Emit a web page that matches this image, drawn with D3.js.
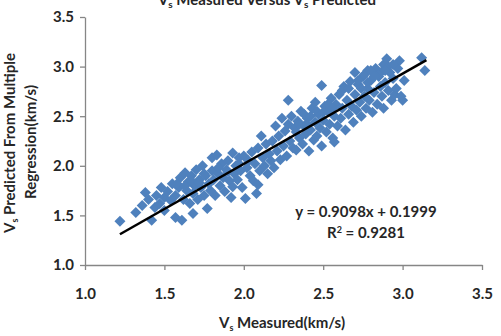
<!DOCTYPE html>
<html><head><meta charset="utf-8">
<script src="https://cdn.jsdelivr.net/npm/d3@7"></script>
<style>body{margin:0;background:#fff}svg{display:block}text{font-family:Lato,"Open Sans",sans-serif;font-weight:bold;fill:#262626}</style>
</head><body><svg id="c" width="501" height="336"></svg>
<script>
const xTicks = [1.0, 1.5, 2.0, 2.5, 3.0, 3.5];
const yTicks = [1.0, 1.5, 2.0, 2.5, 3.0, 3.5];
const slope = 0.9098, intercept = 0.1999, r2 = 0.9281;
const fitRange = [1.22, 3.15];
const measured = [
1.22,1.32,1.36,1.38,1.40,1.42,1.44,1.45,1.47,1.48,1.50,1.50,
1.52,1.54,1.55,1.57,1.57,1.59,1.60,1.61,1.62,1.63,1.64,1.65,1.66,1.67,1.68,1.68,1.69,1.70,1.71,1.72,1.73,1.74,1.75,1.76,1.77,1.78,1.79,1.80,1.80,
1.81,1.82,1.83,1.84,1.85,1.86,1.87,1.88,1.89,1.90,1.91,1.92,1.93,1.93,1.94,1.95,1.96,1.97,1.98,1.99,2.00,2.01,2.02,2.03,2.04,2.05,2.06,2.07,2.08,2.09,2.09,2.10,2.11,2.12,2.13,2.14,2.15,2.16,2.17,2.18,2.19,
2.20,2.21,2.22,2.23,2.24,2.25,2.26,2.27,2.28,2.28,2.29,2.30,2.31,2.32,2.33,2.34,2.35,2.36,2.37,2.38,2.39,2.40,2.41,2.42,2.43,2.44,2.45,2.45,2.46,2.47,2.48,2.49,2.49,2.50,2.51,2.52,2.53,2.54,2.55,2.56,2.57,2.57,2.58,2.59,
2.60,2.61,2.62,2.63,2.64,2.65,2.66,2.67,2.68,2.69,2.70,2.70,2.71,2.72,2.73,2.74,2.75,2.76,2.77,2.78,2.78,2.79,2.80,2.81,2.82,2.83,2.84,2.85,2.86,2.87,2.88,2.88,2.89,2.90,2.91,2.92,2.93,2.94,2.95,2.96,2.97,2.98,3.00,3.01,3.12,3.14,2.99,
1.58,1.63,1.67,1.72,1.75,1.84,1.90,1.97,2.35,2.38,2.42,2.46,2.50,2.53,2.56,2.33,2.40,2.62,2.66,2.72,2.76,2.80,2.84,2.87,2.91,2.94,2.82,2.78,2.74,2.89
];
const predicted = [
1.44,1.53,1.60,1.73,1.66,1.45,1.58,1.70,1.62,1.78,1.55,1.68,
1.74,1.65,1.82,1.48,1.70,1.78,1.88,1.45,1.66,1.93,1.75,1.84,1.62,1.90,1.52,1.72,1.80,1.96,1.66,1.86,1.78,2.00,1.70,1.90,1.57,1.82,1.75,1.95,2.08,
1.86,1.70,2.11,1.92,1.80,2.02,1.88,1.74,1.96,2.05,1.85,1.68,2.13,1.79,1.92,2.00,1.86,2.08,1.95,1.78,2.10,1.67,1.98,2.05,1.90,2.14,1.85,2.02,1.72,1.81,2.18,1.95,2.30,2.08,2.00,2.22,1.92,2.12,2.05,2.25,1.98,
2.40,2.15,2.30,2.06,2.48,2.20,2.35,2.10,2.66,2.42,2.25,2.50,2.18,2.38,2.16,2.45,2.28,2.55,2.22,2.40,2.32,2.48,2.15,2.36,2.58,2.26,2.64,2.44,2.30,2.52,2.38,2.81,2.20,2.46,2.60,2.34,2.55,2.42,2.68,2.28,2.24,2.50,2.62,2.40,
2.72,2.48,2.58,2.80,2.36,2.66,2.52,2.85,2.60,2.44,2.94,2.72,2.56,2.82,2.64,2.50,2.90,2.70,2.58,2.96,2.78,2.66,2.86,2.54,2.74,2.98,2.62,2.90,2.80,2.70,3.02,2.58,2.84,3.08,2.76,2.94,2.66,2.88,2.72,2.78,2.98,3.06,2.66,2.86,3.09,2.96,2.70,
1.82,1.80,1.85,1.83,1.92,1.98,1.94,2.02,2.42,2.52,2.50,2.55,2.54,2.62,2.58,2.34,2.42,2.76,2.78,2.86,2.92,2.96,2.92,2.95,3.00,3.02,2.90,2.84,2.78,2.96
];

const svg = d3.select("#c");
const x = d3.scaleLinear().domain([1.0, 3.5]).range([85, 482]);
const y = d3.scaleLinear().domain([1.0, 3.5]).range([265, 17]);

// axes
const xa = svg.append("g").attr("transform","translate(0,265)")
  .call(d3.axisBottom(x).tickValues(xTicks).tickSize(5).tickSizeOuter(0).tickFormat(d3.format(".1f")));
const ya = svg.append("g").attr("transform","translate(85,0)")
  .call(d3.axisLeft(y).tickValues(yTicks).tickSize(5).tickSizeOuter(0).tickFormat(d3.format(".1f")));
[xa, ya].forEach(g => {
  g.selectAll("path,line").attr("stroke","#868686").attr("stroke-width",1.3);
  g.selectAll("text").attr("font-size",15).attr("font-family","Lato, sans-serif").attr("font-weight","bold").attr("fill","#262626");
});
xa.selectAll("text").attr("dy","0").attr("y",34);
ya.selectAll("text").attr("x",-11);

// points
const pts = measured.map((m,i)=>[m, predicted[i]]);
const r = 5.5;
svg.append("g").selectAll("path").data(pts).join("path")
  .attr("d", d => `M${x(d[0])},${y(d[1])-r}L${x(d[0])+r},${y(d[1])}L${x(d[0])},${y(d[1])+r}L${x(d[0])-r},${y(d[1])}Z`)
  .attr("fill","#4F81BD");

// trendline
svg.append("line")
  .attr("x1", x(fitRange[0])).attr("y1", y(slope*fitRange[0]+intercept))
  .attr("x2", x(fitRange[1])).attr("y2", y(slope*fitRange[1]+intercept))
  .attr("stroke","#000").attr("stroke-width",2.5);

// equation
svg.append("text").attr("x",366).attr("y",217).attr("text-anchor","middle").attr("font-size",15)
  .text(`y = ${slope}x + ${intercept}`);
const rt = svg.append("text").attr("x",366).attr("y",238).attr("text-anchor","middle").attr("font-size",15);
rt.append("tspan").text("R");
rt.append("tspan").attr("dy",-5).attr("font-size",9).text("2");
rt.append("tspan").attr("dy",5).text(` = ${r2}`);

// title (cut off at top, as in the reference)
const t = svg.append("text").attr("x",267).attr("y",5).attr("text-anchor","middle").attr("font-size",15);
t.append("tspan").text("V");
t.append("tspan").attr("dy",3).attr("font-size",10).text("s");
t.append("tspan").attr("dy",-3).text(" Measured Versus V");
t.append("tspan").attr("dy",3).attr("font-size",10).text("s");
t.append("tspan").attr("dy",-3).text(" Predicted");

// x title
const xt = svg.append("text").attr("x",282).attr("y",328).attr("text-anchor","middle").attr("font-size",15);
xt.append("tspan").text("V");
xt.append("tspan").attr("dy",3).attr("font-size",9).text("s");
xt.append("tspan").attr("dy",-3).text(" Measured(km/s)");

// y title
const yt = svg.append("text").attr("transform","translate(15,143) rotate(-90)").attr("text-anchor","middle").attr("font-size",15);
yt.append("tspan").text("V");
yt.append("tspan").attr("dy",3).attr("font-size",9).text("s");
yt.append("tspan").attr("dy",-3).text(" Predicted From Multiple");
svg.append("text").attr("transform","translate(36,142) rotate(-90)").attr("text-anchor","middle").attr("font-size",15)
  .text("Regression(km/s)");
</script></body></html>
